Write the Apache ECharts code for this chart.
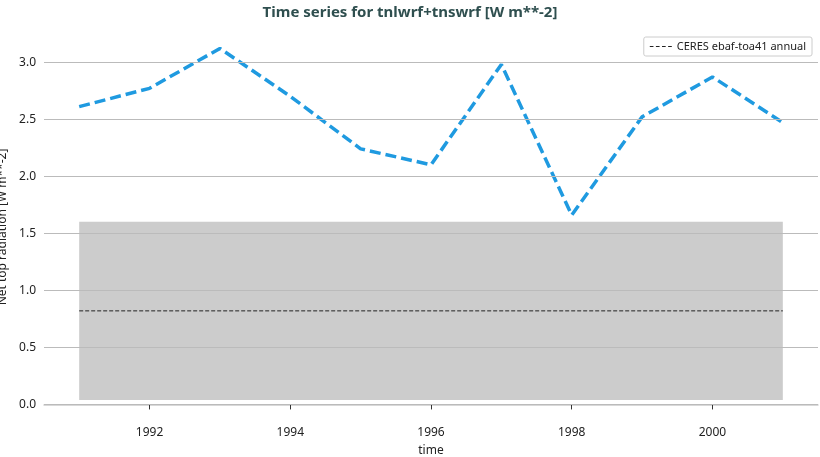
<!DOCTYPE html>
<html><head><meta charset="utf-8">
<script src="https://cdn.jsdelivr.net/npm/echarts@6/dist/echarts.min.js"></script>
<style>html,body{margin:0;padding:0;background:#fff}#c{width:820px;height:457px}</style>
</head><body><div id="c"></div>
<script>
const years = [1991,1992,1993,1994,1995,1996,1997,1998,1999,2000,2001];
const values = [2.61,2.77,3.12,2.70,2.24,2.10,2.98,1.66,2.52,2.87,2.47];
const ceresMean = 0.82;
const ceresLow = 0.04;
const ceresHigh = 1.60;
const yTicks = [0,0.5,1.0,1.5,2.0,2.5,3.0];
const xTicks = [1992,1994,1996,1998,2000];
const F = 'Noto Sans';
const chart = echarts.init(document.getElementById('c'));
chart.setOption({
  animation:false,
  textStyle:{fontFamily:F},
  title:{text:'Time series for tnlwrf+tnswrf [W m**-2]',left:'center',top:0,
    textStyle:{fontFamily:F,fontSize:15,fontWeight:'bold',color:'#2f4f4f'}},
  legend:{right:8,top:37,data:[{name:'CERES ebaf-toa41 annual',icon:'path://M0,4h3v1h-3zM5,4h3v1h-3zM10,4h3v1h-3zM15,4h3v1h-3z'}],
    itemWidth:22,itemHeight:8,textStyle:{fontFamily:F,fontSize:11,color:'#222'},
    borderColor:'#ccc',borderWidth:1,borderRadius:2,padding:[4,6]},
  grid:{left:44,right:2,top:37,bottom:40,containLabel:false,outerBoundsMode:'none'},
  xAxis:{type:'value',min:1990.5,max:2001.5,
    axisLine:{show:true,lineStyle:{color:'#ccc',width:1.5}},
    axisTick:{show:true,customValues:xTicks,length:5,lineStyle:{color:'#333'}},
    axisLabel:{customValues:xTicks,color:'#222',fontSize:12,margin:10,formatter:v=>String(v)},
    splitLine:{show:false},
    name:'time',nameLocation:'middle',nameGap:28,nameTextStyle:{fontSize:12,color:'#222'}},
  yAxis:{type:'value',min:-0.11,max:3.22,
    axisLine:{show:false},axisTick:{show:false},splitLine:{show:false},
    axisLabel:{customValues:yTicks,color:'#222',fontSize:12,formatter:v=>v.toFixed(1)},
    name:'Net top radiation [W m**-2]',nameLocation:'middle',nameGap:34,nameTextStyle:{fontSize:12,color:'#222'}},
  series:[
    {type:'line',name:'band',data:[[1991,ceresHigh],[2001,ceresHigh]],symbol:'none',
     lineStyle:{width:0},silent:true,
     markArea:{silent:true,itemStyle:{color:'#cccccc'},data:[[{coord:[1991,ceresLow]},{coord:[2001,ceresHigh]}]]},
     markLine:{silent:true,symbol:'none',label:{show:false},lineStyle:{color:'#bbb',type:'solid',width:1},
       data:yTicks.map(v=>({yAxis:v}))},z:1},
    {type:'line',name:'CERES ebaf-toa41 annual',data:[[1991,ceresMean],[2001,ceresMean]],symbol:'none',
     lineStyle:{color:'#222',type:[4,2],width:1},itemStyle:{color:'#222'},z:3},
    {type:'line',name:'model',data:years.map((y,i)=>[y,values[i]]),symbol:'none',
     lineStyle:{color:'#1f9ae0',width:3.5,type:[11,5]},z:4}
  ]
});
</script></body></html>
